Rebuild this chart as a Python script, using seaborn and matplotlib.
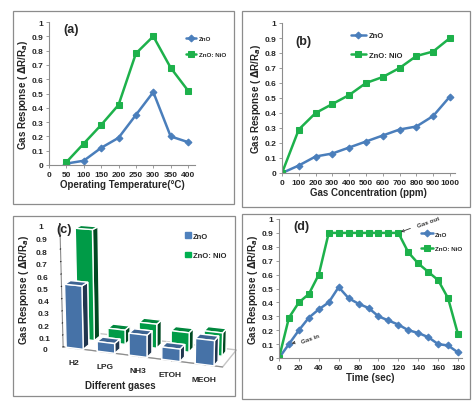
import numpy as np
import seaborn as sns
import matplotlib.pyplot as plt
from matplotlib.patches import Rectangle, Patch
from mpl_toolkits.mplot3d import Axes3D  # noqa: F401

# (a) response vs operating temperature
temp = [50, 100, 150, 200, 250, 300, 350, 400]
temp_zno = [0.01, 0.03, 0.12, 0.19, 0.35, 0.51, 0.20, 0.16]
temp_nio = [0.02, 0.15, 0.28, 0.42, 0.78, 0.90, 0.68, 0.52]

# (b) response vs gas concentration
conc = [0, 100, 200, 300, 400, 500, 600, 700, 800, 900, 1000]
conc_zno = [0, 0.05, 0.11, 0.13, 0.17, 0.21, 0.25, 0.29, 0.31, 0.38, 0.51]
conc_nio = [0, 0.29, 0.40, 0.46, 0.52, 0.60, 0.64, 0.70, 0.78, 0.81, 0.90]

# (c) response to different gases
gases = ['H2', 'LPG', 'NH3', 'ETOH', 'MEOH']
gas_zno = [0.52, 0.08, 0.18, 0.10, 0.20]
gas_nio = [0.92, 0.12, 0.20, 0.16, 0.19]

# (d) transient response
time = [0, 10, 20, 30, 40, 50, 60, 70, 80, 90, 100, 110, 120, 130, 140, 150, 160, 170, 180]
time_zno = [0, 0.10, 0.20, 0.29, 0.35, 0.40, 0.51, 0.43, 0.39, 0.36, 0.30, 0.27, 0.24,
            0.20, 0.18, 0.15, 0.10, 0.09, 0.04]
time_nio = [0, 0.29, 0.40, 0.46, 0.60, 0.90, 0.90, 0.90, 0.90, 0.90, 0.90, 0.90, 0.90,
            0.76, 0.68, 0.62, 0.56, 0.43, 0.17]

BLUE = '#4a7ebb'
GREEN = '#1db14b'
YLAB = 'Gas Response ( $\\Delta$R/R$_a$)'

sns.set_style('white')
plt.rcParams['font.family'] = ['Liberation Sans', 'DejaVu Sans']
plt.rcParams['font.weight'] = 'bold'
plt.rcParams['axes.labelweight'] = 'bold'

fig = plt.figure(figsize=(4.75, 4.02), dpi=100)

# panel frames (pixel boxes converted to figure fraction)
W, H = 475, 402
for x0, y0, x1, y1 in [(13, 12, 234, 205), (242, 12, 470, 208),
                       (13, 217, 235, 397), (242, 215, 470, 400)]:
    fig.patches.append(Rectangle((x0 / W, 1 - y1 / H), (x1 - x0) / W, (y1 - y0) / H,
                                 transform=fig.transFigure, fill=False,
                                 edgecolor='#8c8c8c', linewidth=0.9))


def ax_px(x0, y0, x1, y1, **kw):
    return fig.add_axes([x0 / W, 1 - y1 / H, (x1 - x0) / W, (y1 - y0) / H], **kw)


def fig_text(x, y, s, **kw):
    fig.text(x / W, 1 - y / H, s, **kw)


def tick_labels():
    return ['0'] + [f'{v:.1f}' for v in np.arange(0.1, 0.95, 0.1)] + ['1']


def style_line_ax(ax, xticks, xlim, xlabel, tag, tagpos):
    sns.despine(ax=ax)
    for s in ['left', 'bottom']:
        ax.spines[s].set_color('#8c8c8c')
        ax.spines[s].set_linewidth(0.8)
    ax.set_ylim(0, 1)
    ax.set_xlim(*xlim)
    ax.set_yticks(np.arange(0, 1.01, 0.1))
    ax.set_yticklabels(tick_labels())
    ax.set_xticks(xticks)
    ax.tick_params(axis='both', labelsize=6, length=2.5, width=0.6, color='#8c8c8c',
                   pad=1.5, direction='out', left=True, bottom=True)
    ax.set_xlabel(xlabel, fontsize=7, labelpad=1)
    ax.set_ylabel(YLAB, fontsize=7, labelpad=1)
    ax.text(tagpos[0], tagpos[1], tag, transform=ax.transAxes, fontsize=9,
            fontweight='bold', va='center')


def draw_pair(ax, x, y1, y2):
    sns.lineplot(x=x, y=y1, ax=ax, color=BLUE, marker='D', markersize=3.5,
                 markeredgecolor=BLUE, linewidth=1.8, label='ZnO')
    sns.lineplot(x=x, y=y2, ax=ax, color=GREEN, marker='s', markersize=5,
                 markeredgecolor=GREEN, linewidth=1.8, label='ZnO: NiO')


def legend_line(ax, loc, fs=5, hl=2.0):
    ax.legend(loc='upper left', bbox_to_anchor=loc, frameon=False, fontsize=fs,
              handlelength=hl, handletextpad=0.4, labelspacing=1.6, borderaxespad=0)


# ---- (a)
ax = ax_px(49, 23, 195, 166)
draw_pair(ax, temp, temp_zno, temp_nio)
style_line_ax(ax, range(0, 401, 50), (0, 420), 'Operating Temperature(\u00b0C)', '(a)', (0.1, 0.95))
legend_line(ax, (0.92, 0.92), fs=4.5, hl=1.7)

# ---- (b)
ax = ax_px(282, 24, 455, 174)
draw_pair(ax, conc, conc_zno, conc_nio)
style_line_ax(ax, range(0, 1001, 100), (0, 1030), 'Gas Concentration (ppm)', '(b)', (0.08, 0.88))
legend_line(ax, (0.38, 0.96), fs=5.5)

# ---- (d)
ax = ax_px(279, 220, 462, 359)
draw_pair(ax, time, time_zno, time_nio)
style_line_ax(ax, range(0, 181, 20), (0, 184), 'Time (sec)', '(d)', (0.08, 0.95))
ax.legend(loc='upper left', bbox_to_anchor=(0.76, 0.93), frameon=False, fontsize=4.5,
          handlelength=2.0, handletextpad=0.3, labelspacing=1.4, borderaxespad=0)
ax.annotate('Gas in', xy=(time[1], time_zno[1]), xytext=(22, 0.14), fontsize=4.5,
            rotation=20, color='#333333', va='center',
            arrowprops=dict(arrowstyle='->', color='#333333', lw=0.6))
ax.annotate('Gas out', xy=(time[12], time_nio[12]), xytext=(138, 0.98), fontsize=4.5,
            rotation=20, color='#333333', va='center',
            arrowprops=dict(arrowstyle='->', color='#333333', lw=0.6))

# ---- (c) 3D bars
ax3 = ax_px(37, 204, 257, 378, projection='3d')
xs = np.arange(len(gases))
zero = np.zeros(len(gases))
ax3.bar3d(xs - 0.3, zero, zero, 0.55, 0.5, gas_zno, color='#4f81bd', shade=True)
ax3.bar3d(xs - 0.3, zero + 1.0, zero, 0.55, 0.5, gas_nio, color='#00b050', shade=True)
ax3.view_init(elev=16, azim=-70)
ax3.set_box_aspect((4.6, 1.4, 3.5), zoom=1.22)
ax3.set_zlim(0, 1)
ax3.set_xlim(-0.4, 4.5)
ax3.set_ylim(0, 1.8)
ax3.set_zticks(np.arange(0, 1.01, 0.1))
ax3.set_zticklabels(tick_labels())
ax3.set_xticks(xs)
ax3.set_xticklabels(gases)
ax3.set_yticks([])
ax3.zaxis.set_ticks_position('lower')
ax3.tick_params(labelsize=6, pad=-1)
ax3.tick_params(axis='x', pad=-3)
ax3.grid(False)
for a in [ax3.xaxis, ax3.yaxis, ax3.zaxis]:
    a.pane.fill = False
    a.pane.set_edgecolor('none')
    a.line.set_color('#8c8c8c')
ax3.zaxis.pane.set_edgecolor('#8c8c8c')
ax3.yaxis.line.set_color('none')
fig_text(120, 389, 'Different gases', fontsize=7, fontweight='bold', ha='center')
fig_text(24, 290, YLAB, rotation=90, fontsize=7, fontweight='bold', va='center', ha='center')
fig_text(56, 230, '(c)', fontsize=9, fontweight='bold', va='center')
ax3.legend(handles=[Patch(color='#4f81bd', label='ZnO'), Patch(color='#00b050', label='ZnO: NiO')],
           loc='upper left', bbox_to_anchor=(0.68, 0.87), frameon=False, fontsize=5.5,
           handlelength=0.7, handleheight=0.7, handletextpad=0.3, labelspacing=1.6)

fig.savefig('out.png', dpi=100)
